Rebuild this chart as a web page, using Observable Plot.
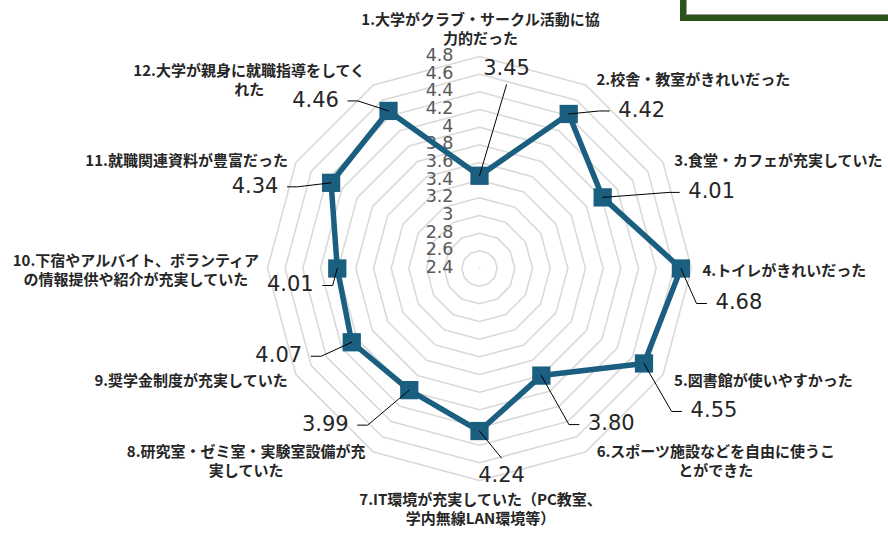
<!DOCTYPE html>
<html><head><meta charset="utf-8">
<script src="https://cdn.jsdelivr.net/npm/d3@7"></script>
<script src="https://cdn.jsdelivr.net/npm/@observablehq/plot@0.6"></script>
<style>
body{margin:0;background:#fff;}
#wrap{position:relative;width:888px;height:534px;overflow:hidden;background:#fff;}
#deco{position:absolute;left:680px;top:-60px;width:230px;height:69px;border:6px solid #2b5419;box-shadow:inset 1px 0 0 #9a9a9a, inset 0 -1px 0 #9a9a9a;background:#fff;}
</style></head><body><div id="wrap"><div id="chart"></div><div id="deco"></div></div>
<script>
// ---- data ----
const categories = [
  "1.大学がクラブ・サークル活動に協\n力的だった",
  "2.校舎・教室がきれいだった",
  "3.食堂・カフェが充実していた",
  "4.トイレがきれいだった",
  "5.図書館が使いやすかった",
  "6.スポーツ施設などを自由に使うこ\nとができた",
  "7.IT環境が充実していた（PC教室、\n学内無線LAN環境等）",
  "8.研究室・ゼミ室・実験室設備が充\n実していた",
  "9.奨学金制度が充実していた",
  "10.下宿やアルバイト、ボランティア\nの情報提供や紹介が充実していた",
  "11.就職関連資料が豊富だった",
  "12.大学が親身に就職指導をしてく\nれた"
];
const values = [3.45, 4.42, 4.01, 4.68, 4.55, 3.80, 4.24, 3.99, 4.07, 4.01, 4.34, 4.46];
const ticks = [2.4, 2.6, 2.8, 3.0, 3.2, 3.4, 3.6, 3.8, 4.0, 4.2, 4.4, 4.6, 4.8];
const tickLabels = ["2.4","2.6","2.8","3","3.2","3.4","3.6","3.8","4","4.2","4.4","4.6","4.8"];

// ---- layout (pixels) ----
const W = 888, H = 534, CX = 479, CY = 268, R = 212;
const rMin = 2.4, rMax = 4.8;
// data-label offsets from each point, in pixels
const valueLabelOffsets = [[27,-106],[73,-3],[109,-5],[58,35],[70,48],[70,49],[22,45],[-84,35],[-73,14],[-47,17],[-76,4],[-73,-10]];

const n = categories.length;
const u = p => p / R;
const ang = i => i * 2 * Math.PI / n;
const rad = v => (v - rMin) / (rMax - rMin);
const px = (i, v) => rad(v) * Math.sin(ang(i));
const py = (i, v) => rad(v) * Math.cos(ang(i));

// grid rings
const grid = [];
ticks.forEach(t => { for (let i = 0; i <= n; i++) grid.push({t, x: px(i % n, t), y: py(i % n, t)}); });

// series (closed)
const series = values.map((v, i) => ({i, v, x: px(i, v), y: py(i, v)}));
const seriesClosed = [...series, series[0]];

// value labels + leaders
const valFont = 21;
const charW = s => [...s].reduce((a, c) => a + (c === "." ? 0.318 : 0.636), 0) * valFont;
const valLabels = series.map((d, i) => {
  const [dx, dy] = valueLabelOffsets[i];
  const txt = d.v.toFixed(2);
  return {i, text: txt, x: d.x + u(dx), y: d.y - u(dy), dx, dy, w: charW(txt)};
});
const leaders = [];
valLabels.forEach((l, i) => {
  const p = series[i];
  leaders.push({i, x: p.x, y: p.y});
  if (Math.abs(l.dy) > 1.5 * Math.abs(l.dx)) {
    const off = l.dy < 0 ? 15 : -18;
    leaders.push({i, x: l.x, y: l.y - u(off)});
  } else {
    const s = Math.sign(l.dx);
    const endX = l.x - s * u(l.w / 2 + 9);
    leaders.push({i, x: endX - s * u(10), y: l.y});
    leaders.push({i, x: endX, y: l.y});
  }
});

// category labels
const catFontSize = 15, catLH = 1.27;
const ctx = document.createElement("canvas").getContext("2d");
ctx.font = `bold ${catFontSize}px "Noto Sans CJK JP"`;
const catLabels = categories.map((c, i) => {
  const lines = c.split("\n");
  const w = Math.max(...lines.map(s => ctx.measureText(s).width));
  const s = Math.sin(ang(i)), co = Math.cos(ang(i));
  const vx = CX + R * s, vy = CY - R * co;
  let cxp, cyp;
  if (s > 0.1) cxp = vx + 11 + w / 2;
  else if (s < -0.1) cxp = vx - 8 - w / 2;
  else cxp = vx + 1;
  if (Math.abs(co) > 0.9) cyp = vy - co * (9 + lines.length * catLH * catFontSize / 2);
  else cyp = vy - co * 8 + 1;
  return {text: c, x: u(cxp - CX), y: u(CY - cyp)};
});

const color = "#1a5e80";
const chart = Plot.plot({
  width: W, height: H,
  marginTop: 0, marginRight: 0, marginBottom: 0, marginLeft: 0,
  x: {domain: [-CX / R, (W - CX) / R], range: [0, W], axis: null},
  y: {domain: [-(H - CY) / R, CY / R], range: [H, 0], axis: null},
  style: {background: "transparent", overflow: "visible"},
  marks: [
    Plot.line(grid, {x: "x", y: "y", z: "t", stroke: "#d9d9d9", strokeWidth: 1.6}),
    Plot.text(ticks, {x: () => u(-26), y: t => rad(t) + u(1), text: (t, i) => tickLabels[i], textAnchor: "end",
      fill: "#595959", fontSize: 17.5, fontFamily: "DejaVu Sans"}),
    Plot.line(seriesClosed, {x: "x", y: "y", stroke: color, strokeWidth: 5.5, strokeLinejoin: "round"}),
    Plot.dot(series, {x: "x", y: "y", symbol: "square", r: 10.3, fill: color, stroke: "none"}),
    Plot.line(leaders, {x: "x", y: "y", z: "i", stroke: "#000", strokeWidth: 1, strokeLinejoin: "miter"}),
    Plot.text(valLabels, {x: "x", y: d => d.y + u(1), text: "text", fontSize: valFont, fontFamily: "DejaVu Sans", fill: "#262626"}),
    Plot.text(catLabels, {x: "x", y: "y", text: "text", fontSize: catFontSize, lineHeight: catLH,
      fontFamily: "Noto Sans CJK JP", fontWeight: "bold", fill: "#262626"})
  ]
});
document.getElementById("chart").appendChild(chart);
</script></body></html>
